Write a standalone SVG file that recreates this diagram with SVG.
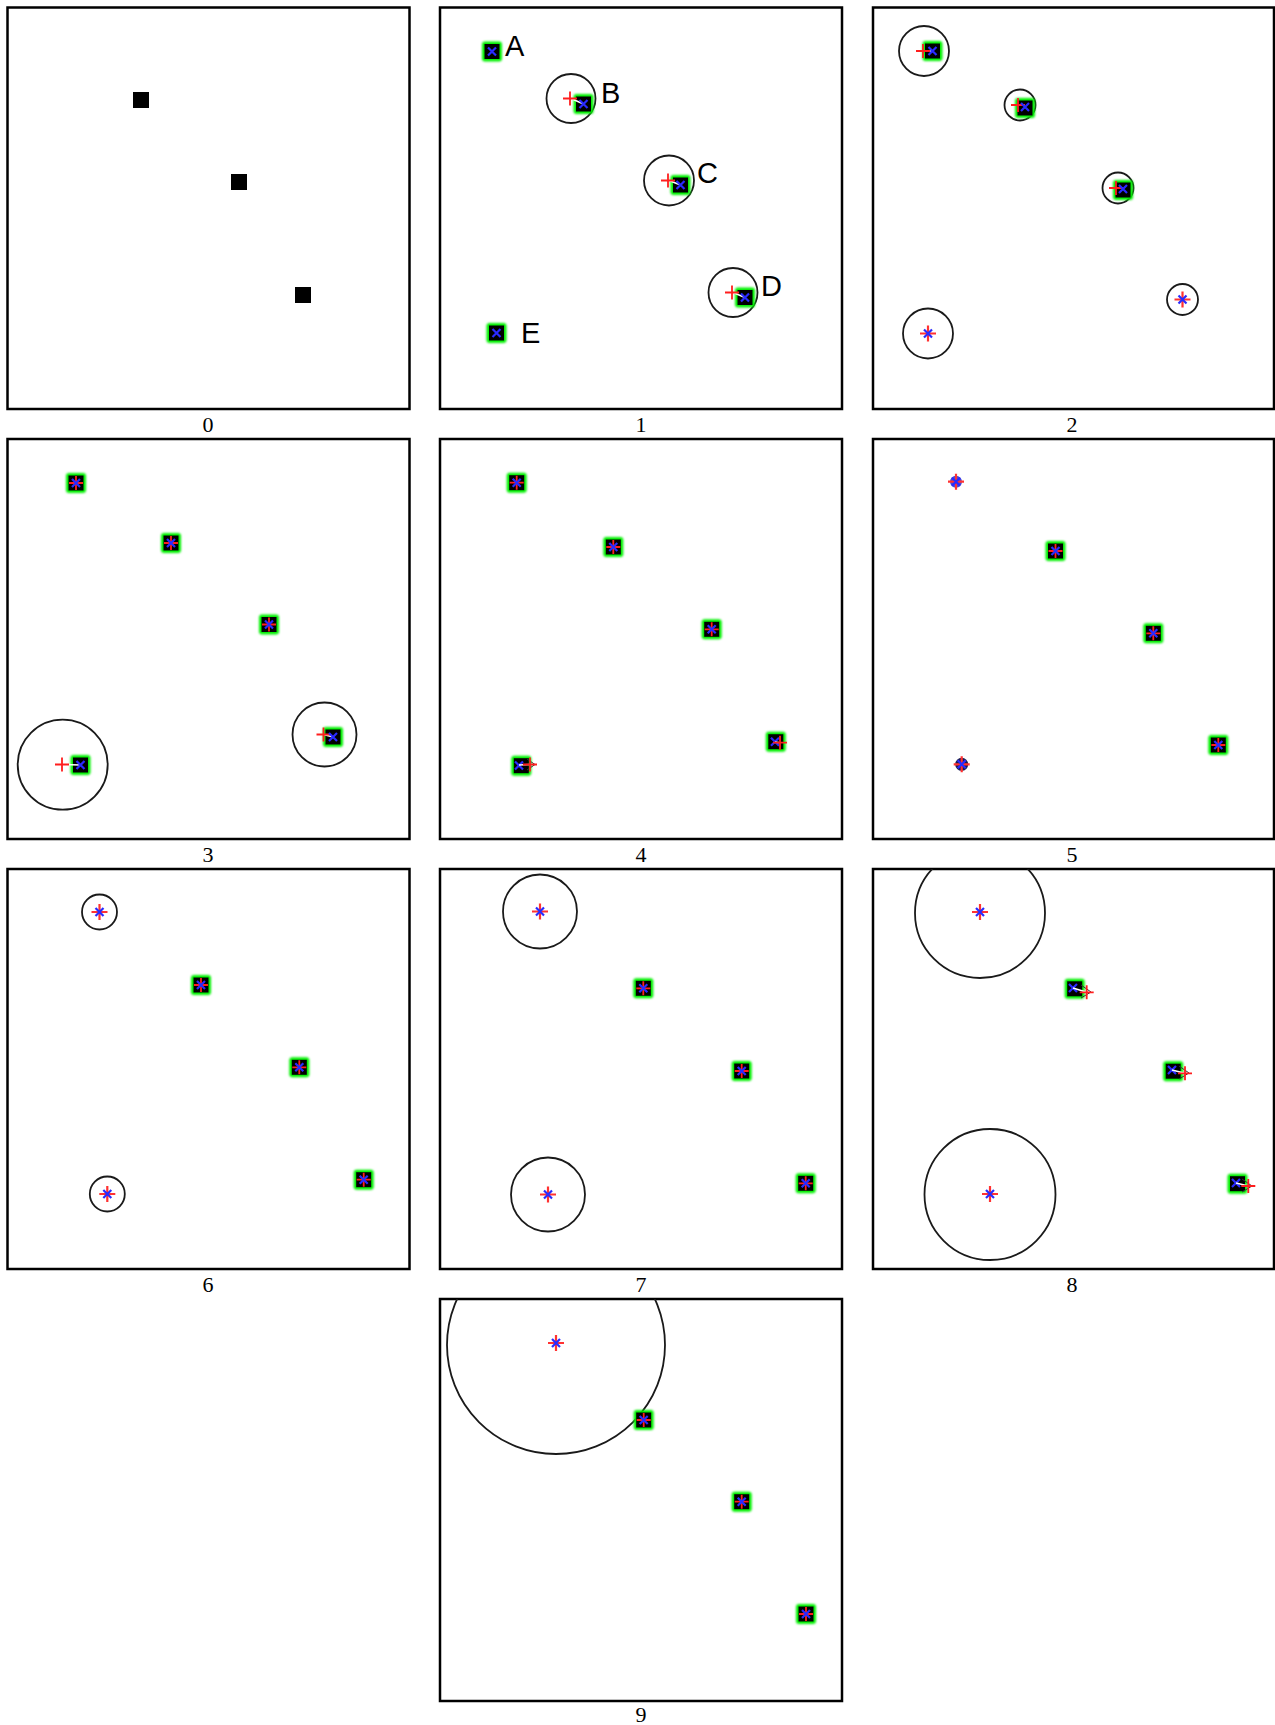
<svg xmlns="http://www.w3.org/2000/svg" width="1275" height="1725" viewBox="0 0 1275 1725">
<style>
.frame{fill:#fff;stroke:#000;stroke-width:2.5}
.ring{fill:none;stroke:#1a1a1a;stroke-width:1.8}
.num{font-family:"Liberation Serif","Times New Roman",serif;font-size:22px;fill:#000;text-anchor:middle}
.lbl{font-family:"Liberation Sans",Arial,sans-serif;font-size:29px;fill:#000}
.link{stroke:#fff;stroke-width:1.6}
.chev{fill:none;stroke:#333;stroke-width:1}
</style>
<defs>
<filter id="glow" x="-50%" y="-50%" width="200%" height="200%"><feGaussianBlur stdDeviation="1"/></filter>
<filter id="soft" x="-50%" y="-50%" width="200%" height="200%"><feGaussianBlur stdDeviation="0.5"/></filter>
<clipPath id="c8"><rect x="873" y="869" width="401" height="400"/></clipPath>
<clipPath id="c9"><rect x="440" y="1299" width="402" height="402"/></clipPath>
<g id="box"><rect x="-10" y="-10" width="20" height="20" rx="3" fill="#00f000" filter="url(#glow)"/><rect x="-7.5" y="-7.5" width="15" height="15" fill="#000"/></g>
<path id="xm" d="M-4-4L4 4M-4 4L4-4" stroke="#2a2aff" stroke-width="2.2" fill="none"/>
<path id="pl" d="M-7 0H7M0-7V7" stroke="#ff1e1e" stroke-width="1.8" fill="none"/>
<g id="bx"><use href="#box"/><use href="#xm"/></g>
<g id="bs"><use href="#box"/><use href="#pl"/><use href="#xm"/></g>
<g id="st"><g filter="url(#soft)"><path d="M-8 0H8M0-8V8" stroke="#ff3030" stroke-width="2.2" fill="none"/></g><use href="#xm"/></g>
<rect id="blk" x="-8" y="-8" width="16" height="16" fill="#000"/>
</defs>
<rect width="1275" height="1725" fill="#fff"/>

<!-- Panel 0 -->
<g id="panel0">
<rect class="frame" x="7.5" y="7.5" width="402" height="401.5"/>
<g id="p0-n1"><use href="#blk" x="141" y="100"/></g>
<g id="p0-n2"><use href="#blk" x="239" y="182"/></g>
<g id="p0-n3"><use href="#blk" x="303" y="295"/></g>
<text class="num" x="208" y="432">0</text>
</g>

<!-- Panel 1 -->
<g id="panel1">
<rect class="frame" x="440" y="7.5" width="402" height="401.5"/>
<g id="p1-A"><use href="#bx" x="492" y="51.5"/><text class="lbl" x="505" y="56">A</text></g>
<g id="p1-B"><circle class="ring" cx="571" cy="98.5" r="24.5"/><use href="#box" x="583.5" y="104"/><line class="link" x1="571" y1="98.5" x2="583.5" y2="104"/><use href="#pl" x="570" y="98.5"/><use href="#xm" x="583.5" y="104"/><text class="lbl" x="601" y="103">B</text></g>
<g id="p1-C"><circle class="ring" cx="669" cy="180.5" r="25"/><use href="#box" x="680.5" y="185"/><line class="link" x1="669" y1="180.5" x2="680.5" y2="185"/><use href="#pl" x="668" y="180.5"/><use href="#xm" x="680.5" y="185"/><text class="lbl" x="697" y="183">C</text></g>
<g id="p1-D"><circle class="ring" cx="733" cy="292.5" r="24.5"/><use href="#box" x="745" y="297.5"/><line class="link" x1="733" y1="292.5" x2="745" y2="297.5"/><use href="#pl" x="732" y="292.5"/><use href="#xm" x="745" y="297.5"/><text class="lbl" x="761" y="296">D</text></g>
<g id="p1-E"><use href="#bx" x="496.5" y="333"/><text class="lbl" x="521" y="343">E</text></g>
<text class="num" x="641" y="432">1</text>
</g>

<!-- Panel 2 -->
<g id="panel2">
<rect class="frame" x="873" y="7.5" width="401" height="401.5"/>
<g id="p2-n1"><circle class="ring" cx="924" cy="51" r="25"/><use href="#box" x="932.5" y="51"/><line class="link" x1="924" y1="51" x2="932.5" y2="51"/><use href="#pl" x="923" y="51"/><use href="#xm" x="932.5" y="51"/></g>
<g id="p2-n2"><circle class="ring" cx="1020" cy="105" r="15.5"/><use href="#box" x="1025" y="108"/><use href="#pl" x="1018" y="105"/><use href="#xm" x="1025" y="107"/></g>
<g id="p2-n3"><circle class="ring" cx="1118" cy="188" r="15.5"/><use href="#box" x="1123" y="190"/><use href="#pl" x="1116" y="188"/><use href="#xm" x="1123" y="189"/></g>
<g id="p2-n4"><circle class="ring" cx="1182.5" cy="299.5" r="15.5"/><use href="#st" x="1182.5" y="299.5"/></g>
<g id="p2-n5"><circle class="ring" cx="928" cy="333.5" r="25"/><use href="#st" x="928" y="333.5"/></g>
<text class="num" x="1072" y="432">2</text>
</g>

<!-- Panel 3 -->
<g id="panel3">
<rect class="frame" x="7.5" y="439" width="402" height="400"/>
<g id="p3-n1"><use href="#bs" x="76" y="483"/></g>
<g id="p3-n2"><use href="#bs" x="171" y="543"/></g>
<g id="p3-n3"><use href="#bs" x="269" y="624.5"/></g>
<g id="p3-n4"><circle class="ring" cx="324.5" cy="734.5" r="32"/><use href="#box" x="333" y="737"/><line class="link" x1="323.5" y1="734.5" x2="333" y2="737"/><use href="#pl" x="323.5" y="734.5"/><use href="#xm" x="333" y="737"/></g>
<g id="p3-n5"><circle class="ring" cx="62.7" cy="764.7" r="45"/><use href="#box" x="80.5" y="765"/><line class="link" x1="62" y1="764.5" x2="80.5" y2="765"/><use href="#pl" x="62" y="764.5"/><use href="#xm" x="80.5" y="765"/></g>
<text class="num" x="208" y="862">3</text>
</g>

<!-- Panel 4 -->
<g id="panel4">
<rect class="frame" x="440" y="439" width="402" height="400"/>
<g id="p4-n1"><use href="#bs" x="516.7" y="482.7"/></g>
<g id="p4-n2"><use href="#bs" x="613.3" y="547"/></g>
<g id="p4-n3"><use href="#bs" x="711.7" y="629.3"/></g>
<g id="p4-n4"><use href="#box" x="775.8" y="741.7"/><use href="#xm" x="775" y="741.7"/><line class="link" x1="775" y1="742" x2="780" y2="742.7"/><use href="#pl" x="780" y="742.7"/></g>
<g id="p4-n5"><use href="#box" x="521.3" y="765.7"/><use href="#xm" x="519" y="765.5"/><line class="link" x1="519" y1="765" x2="530" y2="764.5"/><path class="chev" d="M527 759L535 764.5L527 770"/><use href="#pl" x="530" y="764.5"/></g>
<text class="num" x="641" y="862">4</text>
</g>

<!-- Panel 5 -->
<g id="panel5">
<rect class="frame" x="873" y="439" width="401" height="400"/>
<g id="p5-n1"><circle cx="956" cy="481.7" r="6" fill="#4848d8" filter="url(#soft)"/><use href="#st" x="956" y="481.7"/></g>
<g id="p5-n2"><use href="#bs" x="1055.5" y="551"/></g>
<g id="p5-n3"><use href="#bs" x="1153.3" y="633.3"/></g>
<g id="p5-n4"><use href="#bs" x="1218.3" y="745"/></g>
<g id="p5-n5"><circle cx="961.7" cy="764.3" r="6.5" fill="#1c1c50" filter="url(#soft)"/><use href="#st" x="961.7" y="764.3"/></g>
<text class="num" x="1072" y="862">5</text>
</g>

<!-- Panel 6 -->
<g id="panel6">
<rect class="frame" x="7.5" y="869" width="402" height="400"/>
<g id="p6-n1"><circle class="ring" cx="99.5" cy="912" r="17.5"/><use href="#st" x="99.5" y="912"/></g>
<g id="p6-n2"><use href="#bs" x="201" y="985"/></g>
<g id="p6-n3"><use href="#bs" x="299.3" y="1067.3"/></g>
<g id="p6-n4"><use href="#bs" x="363.7" y="1179.7"/></g>
<g id="p6-n5"><circle class="ring" cx="107.3" cy="1194" r="17.5"/><use href="#st" x="107.3" y="1194"/></g>
<text class="num" x="208" y="1292">6</text>
</g>

<!-- Panel 7 -->
<g id="panel7">
<rect class="frame" x="440" y="869" width="402" height="400"/>
<g id="p7-n1"><circle class="ring" cx="540" cy="911.5" r="37"/><use href="#st" x="540" y="911.5"/></g>
<g id="p7-n2"><use href="#bs" x="643.3" y="988.3"/></g>
<g id="p7-n3"><use href="#bs" x="741.7" y="1071"/></g>
<g id="p7-n4"><use href="#bs" x="805.7" y="1183.3"/></g>
<g id="p7-n5"><circle class="ring" cx="548" cy="1194.5" r="37"/><use href="#st" x="548" y="1194.5"/></g>
<text class="num" x="641" y="1292">7</text>
</g>

<!-- Panel 8 -->
<g id="panel8">
<rect class="frame" x="873" y="869" width="401" height="400"/>
<g id="p8-n1" clip-path="url(#c8)"><circle class="ring" cx="980" cy="913" r="65"/><use href="#st" x="980" y="912"/></g>
<g id="p8-n2"><use href="#box" x="1074.7" y="988.8"/><use href="#xm" x="1073" y="988"/><line class="link" x1="1073" y1="988" x2="1086.7" y2="992.3"/><path class="chev" d="M1081 985L1091 992L1081 998"/><use href="#pl" x="1086.7" y="992.3"/></g>
<g id="p8-n3"><use href="#box" x="1173.2" y="1071.2"/><use href="#xm" x="1172" y="1070"/><line class="link" x1="1172" y1="1070" x2="1185" y2="1073.3"/><path class="chev" d="M1179 1066L1189 1073L1179 1079"/><use href="#pl" x="1185" y="1073.3"/></g>
<g id="p8-n4"><use href="#box" x="1237.5" y="1183.7"/><use href="#xm" x="1236" y="1183"/><line class="link" x1="1236" y1="1183" x2="1248.3" y2="1186"/><path class="chev" d="M1242 1179L1252 1186L1242 1192"/><use href="#pl" x="1248.3" y="1186"/></g>
<g id="p8-n5"><circle class="ring" cx="990" cy="1194.5" r="65.5"/><use href="#st" x="990" y="1194"/></g>
<text class="num" x="1072" y="1292">8</text>
</g>

<!-- Panel 9 -->
<g id="panel9">
<rect class="frame" x="440" y="1299" width="402" height="402"/>
<g id="p9-n1" clip-path="url(#c9)"><circle class="ring" cx="556" cy="1345" r="109"/><use href="#st" x="556" y="1343"/></g>
<g id="p9-n2"><use href="#bs" x="643.7" y="1420"/></g>
<g id="p9-n3"><use href="#bs" x="741.7" y="1501.7"/></g>
<g id="p9-n4"><use href="#bs" x="806" y="1614"/></g>
<text class="num" x="641" y="1722">9</text>
</g>
</svg>
